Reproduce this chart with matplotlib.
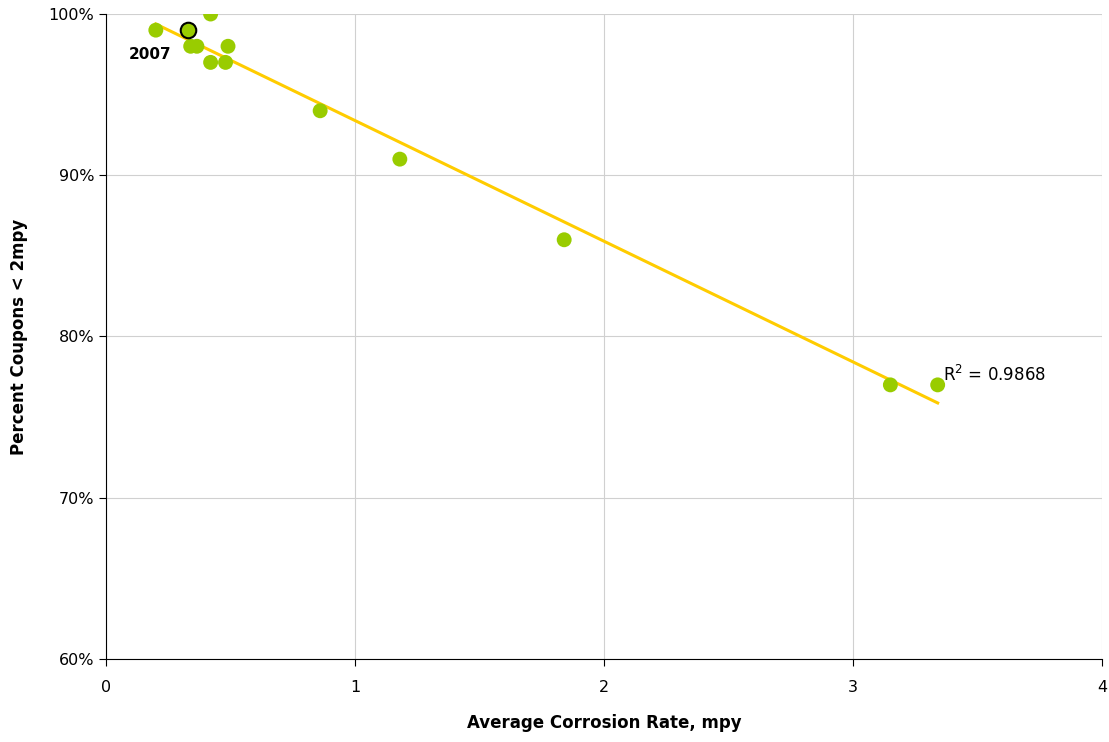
import numpy as np
import matplotlib.pyplot as plt
from matplotlib.ticker import FuncFormatter

# Average corrosion rate (mpy) vs percent coupons < 2mpy
rate = [0.20, 0.33, 0.42, 0.34, 0.365, 0.49, 0.42, 0.48, 0.86, 1.18, 1.84, 3.15, 3.34]
pct = [99, 99, 100, 98, 98, 98, 97, 97, 94, 91, 86, 77, 77]
hl_rate, hl_pct = 0.33, 99  # 2007

green = '#99CC00'
gold = '#FFCC00'

fig = plt.figure(figsize=(11.09, 7.42), dpi=100)
ax = fig.add_axes([0.0956, 0.1119, 0.8981, 0.8692])

# linear trend
coef = np.polyfit(rate, pct, 1)
xs = np.array([min(rate), max(rate)])
ax.plot(xs, np.polyval(coef, xs), color=gold, lw=2.2, zorder=3)
r2 = np.corrcoef(rate, pct)[0, 1] ** 2

ax.scatter(rate, pct, s=115, color=green, edgecolors='none', zorder=4)
ax.scatter([hl_rate], [hl_pct], s=125, color=green, edgecolors='black', linewidths=1.5, zorder=5)

ax.text(0.09, 97.5, '2007', fontsize=11, fontweight='bold', ha='left', va='center')
ax.text(3.36, 77.6, r'R$^2$ = 0.9868', fontsize=12, ha='left', va='center')

ax.set_xlim(0, 4)
ax.set_ylim(60, 100)
ax.set_xticks([0, 1, 2, 3, 4])
ax.set_yticks([60, 70, 80, 90, 100])
ax.yaxis.set_major_formatter(FuncFormatter(lambda v, p: f'{v:.0f}%'))
ax.grid(True, color='#d0d0d0', lw=0.8)
ax.set_axisbelow(True)
for s in ['top', 'right']:
    ax.spines[s].set_visible(False)
ax.spines['left'].set_color('black')
ax.spines['bottom'].set_color('black')
ax.tick_params(labelsize=11.5, length=5, direction='out')
ax.tick_params(axis='x', pad=10)

ax.set_xlabel('Average Corrosion Rate, mpy', fontsize=12, fontweight='bold', labelpad=14)
ax.set_ylabel('Percent Coupons < 2mpy', fontsize=12, fontweight='bold')
ax.yaxis.set_label_coords(-0.078, 0.5)

fig.savefig('out.png', dpi=100)
